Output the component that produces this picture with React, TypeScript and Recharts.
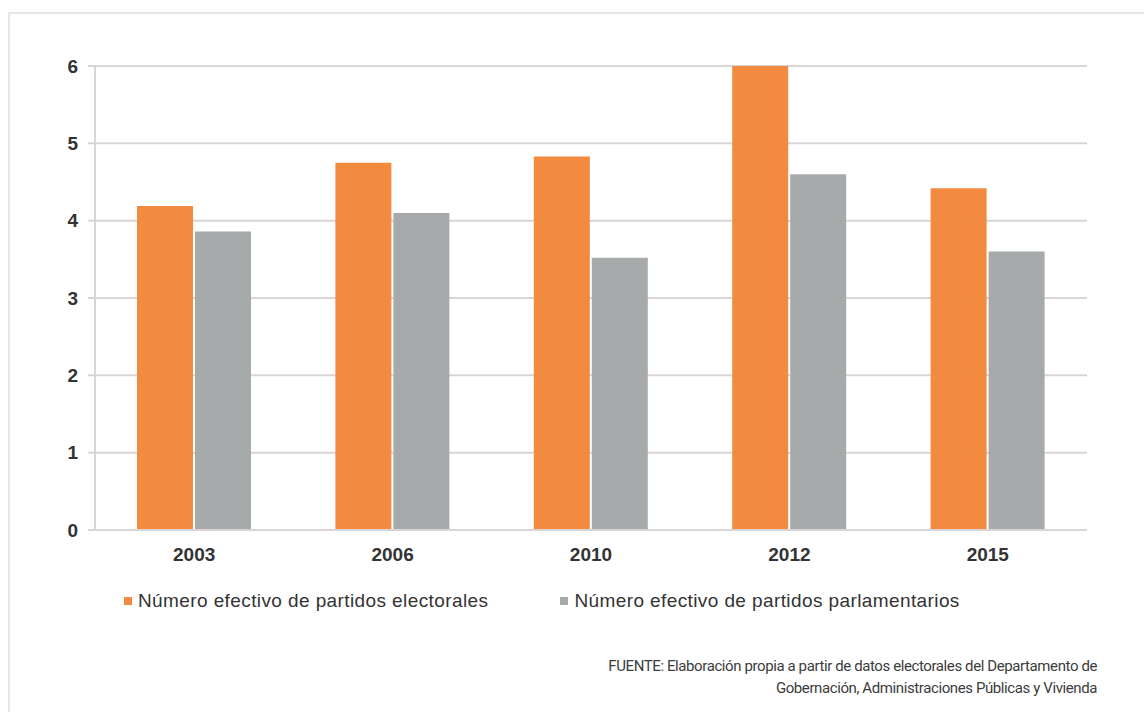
import React from 'react';
import { BarChart, Bar, XAxis, YAxis, CartesianGrid, Legend } from 'recharts';

const years = ['2003', '2006', '2010', '2012', '2015'];
const electorales = [4.19, 4.75, 4.83, 6.0, 4.42];
const parlamentarios = [3.86, 4.1, 3.52, 4.6, 3.6];
const yTicks = [0, 1, 2, 3, 4, 5, 6];

const seriesNames = {
  electorales: 'Número efectivo de partidos electorales',
  parlamentarios: 'Número efectivo de partidos parlamentarios',
};

const ORANGE = '#F28A40';
const GRAY = '#A7AAAB';
const GRID = '#DAD4D4';

const chartData = years.map((y, i) => ({
  year: y,
  electorales: electorales[i],
  parlamentarios: parlamentarios[i],
}));

function LegendContent() {
  const items = [
    { label: seriesNames.electorales, color: ORANGE },
    { label: seriesNames.parlamentarios, color: GRAY },
  ];
  return (
    <div style={{ display: 'flex', fontFamily: '"Liberation Sans", Arial, sans-serif', fontSize: 19, letterSpacing: 0.4, color: '#333' }}>
      {items.map((it, i) => (
        <div key={it.label} style={{ display: 'flex', alignItems: 'center', marginRight: i === 0 ? 72 : 0 }}>
          <span style={{ width: 8, height: 8, background: it.color, display: 'inline-block', marginRight: 6 }} />
          <span>{it.label}</span>
        </div>
      ))}
    </div>
  );
}

export default function App() {
  const tickStyle = { fill: '#333', fontSize: 19, fontWeight: 700, fontFamily: '"Liberation Sans", Arial, sans-serif' };
  return (
    <div style={{ position: 'absolute', left: 0, top: 0, width: 1144, height: 712, background: '#fff', overflow: 'hidden' }}>
      <div style={{ position: 'absolute', left: 8, top: 12, width: 1200, height: 800, borderTop: '2px solid #E6E6E6', borderLeft: '2px solid #E6E6E6' }} />
      <div style={{ position: 'absolute', left: 0, top: 0 }}>
        <BarChart
          width={1144}
          height={712}
          data={chartData}
          margin={{ top: 66, right: 57, left: 55, bottom: 152 }}
          barCategoryGap={42}
          barGap={2}
        >
          <CartesianGrid vertical={false} stroke={GRID} strokeWidth={2} />
          <XAxis
            dataKey="year"
            height={30}
            tick={tickStyle}
            tickLine={false}
            tickMargin={12}
            axisLine={{ stroke: GRID, strokeWidth: 2 }}
          />
          <YAxis
            width={40}
            domain={[0, 6]}
            ticks={yTicks}
            interval={0}
            tick={tickStyle}
            tickSize={7}
            tickMargin={10}
            tickLine={{ stroke: GRID, strokeWidth: 2 }}
            axisLine={{ stroke: GRID, strokeWidth: 2 }}
          />
          <Legend
            layout="horizontal"
            verticalAlign="middle"
            content={<LegendContent />}
            wrapperStyle={{ top: 590, left: 124, width: 900 }}
          />
          <Bar dataKey="electorales" name={seriesNames.electorales} fill={ORANGE} barSize={56} isAnimationActive={false} />
          <Bar dataKey="parlamentarios" name={seriesNames.parlamentarios} fill={GRAY} barSize={56} isAnimationActive={false} />
        </BarChart>
      </div>
      <div
        style={{
          position: 'absolute',
          right: 47,
          top: 655,
          textAlign: 'right',
          fontFamily: 'Roboto, "Noto Sans", sans-serif',
          fontSize: 15,
          letterSpacing: -0.4,
          lineHeight: '22px',
          color: '#3c3c3c',
          whiteSpace: 'nowrap',
        }}
      >
        <div>FUENTE: Elaboración propia a partir de datos electorales del Departamento de</div>
        <div>Gobernación, Administraciones Públicas y Vivienda</div>
      </div>
    </div>
  );
}
